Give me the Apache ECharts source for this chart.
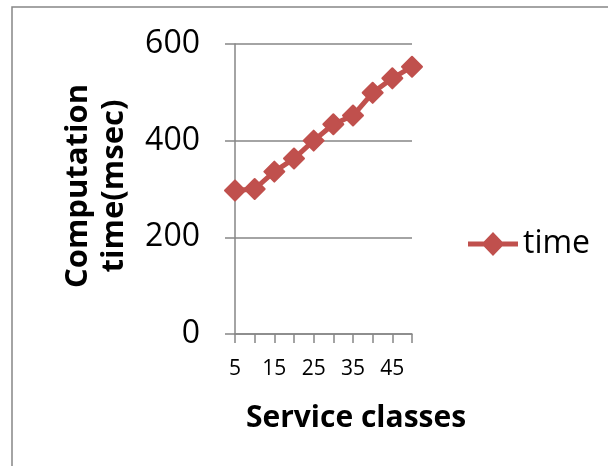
<!DOCTYPE html>
<html>
<head>
<meta charset="utf-8">
<script src="https://cdn.jsdelivr.net/npm/echarts@6/dist/echarts.min.js"></script>
<style>html,body{margin:0;padding:0;background:#fff;}#c{width:608px;height:466px;}</style>
</head>
<body>
<div id="c"></div>
<script>
const categories = ['5','10','15','20','25','30','35','40','45','50'];
const timeValues = [297, 300, 336, 363, 400, 434, 452, 499, 529, 553];
const seriesName = 'time';
const xTitle = 'Service classes';
const yTitle = 'Computation\ntime(msec)';

const FONT = '"Open Sans", sans-serif';
const GRAY = '#868686';
const RED = '#C0504D';
const LEGEND_ICON = 'path://M0,9.5 L15.9,9.5 L25,0 L34.1,9.5 L50,9.5 L50,14.5 L34.1,14.5 L25,24 L15.9,14.5 L0,14.5 Z';

const chart = echarts.init(document.getElementById('c'), null, {renderer: 'canvas'});
chart.setOption({
  animation: false,
  backgroundColor: '#fff',
  grid: {left: 235, right: 196, top: 44, bottom: 132, containLabel: false},
  legend: {
    data: [{name: seriesName, icon: LEGEND_ICON}],
    left: 468, top: 228, padding: 0,
    itemWidth: 50, itemHeight: 24, itemGap: 5,
    itemStyle: {color: RED, borderWidth: 0},
    textStyle: {fontFamily: FONT, fontSize: 32, color: '#000'}
  },
  xAxis: {
    type: 'category',
    data: categories,
    boundaryGap: false,
    axisLine: {lineStyle: {color: GRAY, width: 1.5}},
    axisTick: {show: true, interval: 0, length: 9, lineStyle: {color: GRAY, width: 1.5}},
    axisLabel: {interval: 1, margin: 25, fontFamily: FONT, fontSize: 21, color: '#000'},
    splitLine: {show: false}
  },
  yAxis: {
    type: 'value',
    min: 0, max: 600, interval: 200,
    axisLine: {show: true, lineStyle: {color: GRAY, width: 1.5}},
    axisTick: {show: true, length: 10, lineStyle: {color: GRAY, width: 1.5}},
    axisLabel: {margin: 35, fontFamily: FONT, fontSize: 32, color: '#000'},
    splitLine: {show: true, lineStyle: {color: GRAY, width: 1.5}}
  },
  series: [{
    name: seriesName,
    type: 'line',
    data: timeValues,
    symbol: 'diamond',
    symbolSize: 20,
    showAllSymbol: true,
    lineStyle: {color: RED, width: 5},
    itemStyle: {color: RED, borderColor: RED, borderWidth: 2, borderJoin: 'round'}
  }],
  graphic: [
    {type: 'rect', shape: {x: 12, y: 7, width: 620, height: 480}, style: {fill: 'none', stroke: GRAY, lineWidth: 1.5}, z: -1},
    {type: 'text', x: 356, y: 418, style: {text: xTitle, fontFamily: FONT, fontWeight: 'bold', fontSize: 30, fill: '#000', align: 'center', verticalAlign: 'middle'}},
    {type: 'text', x: 96, y: 186, rotation: Math.PI / 2, style: {text: yTitle, fontFamily: FONT, fontWeight: 'bold', fontSize: 31, lineHeight: 36, fill: '#000', align: 'center', verticalAlign: 'middle'}}
  ]
});
</script>
</body>
</html>
